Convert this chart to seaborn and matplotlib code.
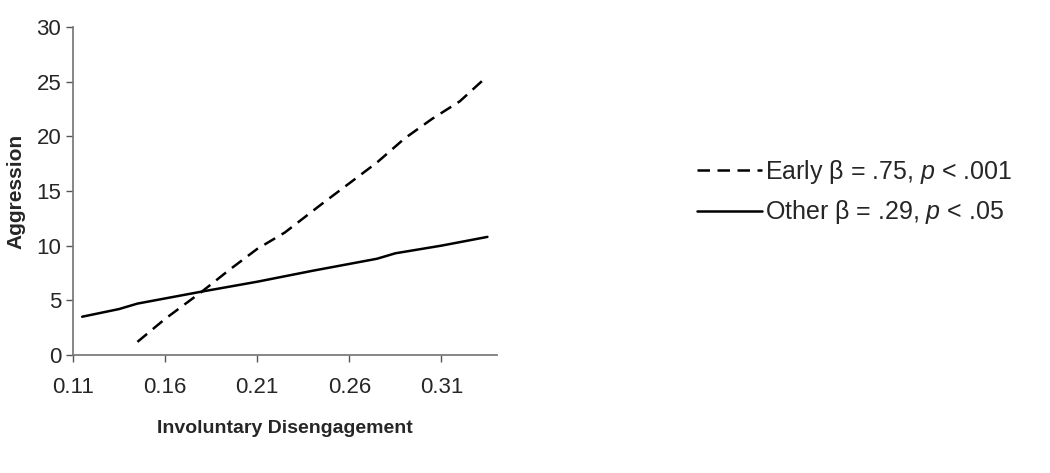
import pandas as pd
import matplotlib.pyplot as plt
import seaborn as sns
import numpy as np

# Dados
early_x = [0.145, 0.16, 0.18, 0.195, 0.21, 0.225, 0.245, 0.26, 0.275, 0.29, 0.305, 0.32, 0.333]
early_y = [1.2, 3.3, 5.8, 7.8, 9.7, 11.2, 13.8, 15.7, 17.6, 19.8, 21.6, 23.2, 25.2]
other_x = [0.115, 0.135, 0.145, 0.18, 0.21, 0.24, 0.275, 0.285, 0.31, 0.335]
other_y = [3.5, 4.2, 4.7, 5.8, 6.7, 7.7, 8.8, 9.3, 10.0, 10.8]
x_ticks = [0.11, 0.16, 0.21, 0.26, 0.31]
y_ticks = [0, 5, 10, 15, 20, 25, 30]

label_early = r'Early β = .75, $p$ < .001'
label_other = r'Other β = .29, $p$ < .05'

sns.set_theme(style='ticks')
plt.rcParams['font.family'] = ['Liberation Sans', 'DejaVu Sans']
plt.rcParams['mathtext.fontset'] = 'custom'
plt.rcParams['mathtext.rm'] = 'Liberation Sans'
plt.rcParams['mathtext.it'] = 'Liberation Sans:italic'

fig = plt.figure(figsize=(10.5, 4.73), dpi=100)
ax = fig.add_axes([0.0695, 0.2495, 0.4035, 0.6935])

sns.lineplot(x=early_x, y=early_y, ax=ax, color='black', linewidth=1.8,
             linestyle=(0, (5, 3)), label=label_early)
sns.lineplot(x=other_x, y=other_y, ax=ax, color='black', linewidth=1.8,
             label=label_other)

ax.set_xlim(0.11, 0.34)
ax.set_ylim(0, 30)
ax.set_xticks(x_ticks)
ax.set_xticklabels(['0.11', '0.16', '0.21', '0.26', '0.31'])
ax.set_yticks(y_ticks)
ax.tick_params(labelsize=16, length=5, color='#555555', width=1)
ax.tick_params(axis='x', pad=11)
for s in ['left', 'bottom']:
    ax.spines[s].set_color('#777777')
sns.despine(ax=ax)

ax.set_xlabel('Involuntary Disengagement', fontsize=14, fontweight='bold', labelpad=16)
ax.set_ylabel('Aggression', fontsize=15, fontweight='bold', labelpad=8)

ax.legend(loc='center left', bbox_to_anchor=(0.652, 0.594), bbox_transform=fig.transFigure,
          frameon=False, fontsize=18, handlelength=2.6, handletextpad=0.1,
          labelspacing=0.5, borderpad=0)

fig.savefig('out.png', dpi=100)
